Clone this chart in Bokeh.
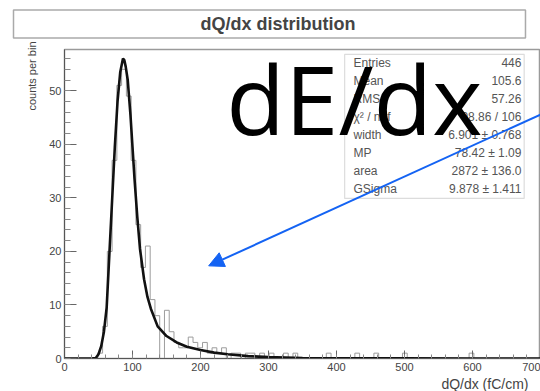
from bokeh.plotting import figure
from bokeh.models import (Range1d, Label, BoxAnnotation, Arrow, NormalHead,
                          SingleIntervalTicker, Title)
from bokeh.embed import file_html
from bokeh.resources import INLINE
import numpy as np

# ---- data ----
bin_width = 7
bin_start = 0
counts = [0, 0, 0, 0, 0, 0, 0, 1, 6, 20,
          37, 51, 54, 49, 37, 25, 17, 21, 11, 8,
          0, 9, 5, 3, 2, 2, 4, 3, 2, 3,
          1, 2, 1, 2, 0, 1, 1, 0, 1, 1,
          0, 1, 0, 1, 0, 0, 1, 0, 1, 0,
          0, 0, 0, 0, 0, 1, 0, 0, 0, 0,
          0, 1, 0, 0, 0, 1, 0, 0, 0, 0,
          0, 1, 0, 0, 0, 0, 0, 0, 0, 0,
          0, 0, 0, 0, 0, 1, 0, 0, 0, 0,
          0, 0, 0, 0, 0, 0, 0, 0, 0, 0]

fit_x = [0, 40, 46, 50, 54, 58, 62, 66, 70, 74, 78, 82, 86, 88, 90, 93, 97,
         100, 103, 107, 111, 117, 122, 127, 137, 150, 165, 180, 200, 220, 240,
         270, 300, 350, 400, 500, 600, 700]
fit_y = [0, 0, 0.1, 0.8, 2.3, 5, 9.5, 19.5, 29.5, 39.5, 48, 53.5, 56, 55.7,
         54.5, 52, 45.5, 39.5, 33.5, 26.5, 20.5, 14.8, 11.5, 9.3, 6.0, 4.2,
         3.0, 2.2, 1.6, 1.1, 0.8, 0.45, 0.25, 0.1, 0.05, 0.02, 0.01, 0]

stat_names = ["Entries", "Mean", "RMS", "\u03c7\u00b2 / ndf", "width", "MP", "area", "GSigma"]
stat_values = ["446", "105.6", "57.26", "98.86 / 106", "6.901 \u00b1 0.768",
               "78.42 \u00b1 1.09", "2872 \u00b1 136.0", "9.878 \u00b1 1.411"]

title_text = "dQ/dx distribution"
x_title = "dQ/dx (fC/cm)"
y_title = "counts per bin"
overlay_text = "dE/dx"

# ---- figure ----
FONT = "Liberation Sans"
p = figure(width=540, height=391, output_backend="svg", toolbar_location=None,
           x_range=Range1d(0, 700), y_range=Range1d(0, 57.7),
           min_border_left=64, min_border_right=0, min_border_top=48,
           min_border_bottom=33)
p.grid.visible = False
p.outline_line_color = "#9a9a9a"
p.outline_line_width = 1.5
p.background_fill_color = "white"
p.border_fill_color = "white"

p.xaxis.ticker = SingleIntervalTicker(interval=100, num_minor_ticks=5)
p.yaxis.ticker = SingleIntervalTicker(interval=10, num_minor_ticks=5)
for ax in (p.xaxis, p.yaxis):
    ax.axis_line_color = "#555555"
    ax.major_tick_line_color = "#666666"
    ax.minor_tick_line_color = "#888888"
    ax.major_tick_out = 0
    ax.minor_tick_out = 0
    ax.major_label_text_font = FONT
    ax.major_label_text_font_size = "11px"
    ax.major_label_text_color = "#444444"
p.xaxis.major_tick_in = 8
p.xaxis.minor_tick_in = 4
p.yaxis.major_tick_in = 12
p.yaxis.minor_tick_in = 6
p.xaxis.major_label_standoff = 4
p.yaxis.major_label_standoff = 3

# titles placed in the side panels
p.add_layout(Title(text=title_text, align="left", offset=-51, standoff=19,
                   vertical_align="top",
                   text_font=FONT, text_font_size="18px", text_font_style="bold",
                   text_color="#444444", border_line_color="#aaaaaa",
                   border_line_width=1.5, background_fill_color="white",
                   padding=dict(left=187, right=170, top=4, bottom=4)), "above")
p.add_layout(Title(text=x_title, align="right", offset=12, standoff=0,
                   text_font=FONT, text_font_size="14px", text_font_style="normal",
                   text_color="#444444"), "below")
p.add_layout(Title(text=y_title, align="right", offset=-8, standoff=18,
                   text_font=FONT, text_font_size="11px", text_font_style="normal",
                   text_color="#444444"), "left")

# histogram outline
edges = [bin_start + bin_width * i for i in range(len(counts) + 1)]
p.step(edges, counts + [counts[-1]], mode="after", line_color="#9c9c9c", line_width=1)

# fit curve
p.line(fit_x, fit_y, line_color="#111111", line_width=2.6)

# stats box
p.add_layout(BoxAnnotation(left=412, right=676, top=56.8, bottom=29.9,
                           fill_color="white", fill_alpha=1.0,
                           line_color="#8a8a8a", line_width=1.2))
stat_y0 = 55.2
stat_dy = 3.37
for i, (n, v) in enumerate(zip(stat_names, stat_values)):
    yy = stat_y0 - i * stat_dy
    p.add_layout(Label(x=425, y=yy, text=n, text_font=FONT, text_font_size="12px",
                       text_color="#555555", text_baseline="middle", text_align="left"))
    p.add_layout(Label(x=672, y=yy, text=v, text_font=FONT, text_font_size="12px",
                       text_color="#555555", text_baseline="middle", text_align="right"))

# overlay text
p.add_layout(Label(x=238, y=48.7, text=overlay_text, text_font="Open Sans",
                   text_font_size="96px", text_color="black",
                   text_align="left", text_baseline="alphabetic"))

# arrow
blue = "#1463f3"
p.add_layout(Arrow(end=NormalHead(size=15, fill_color=blue, line_color=blue),
                   x_start=716.6, y_start=46.5, x_end=212, y_end=17.3,
                   line_color=blue, line_width=2))

open("out.html", "w").write(file_html(p, INLINE))
